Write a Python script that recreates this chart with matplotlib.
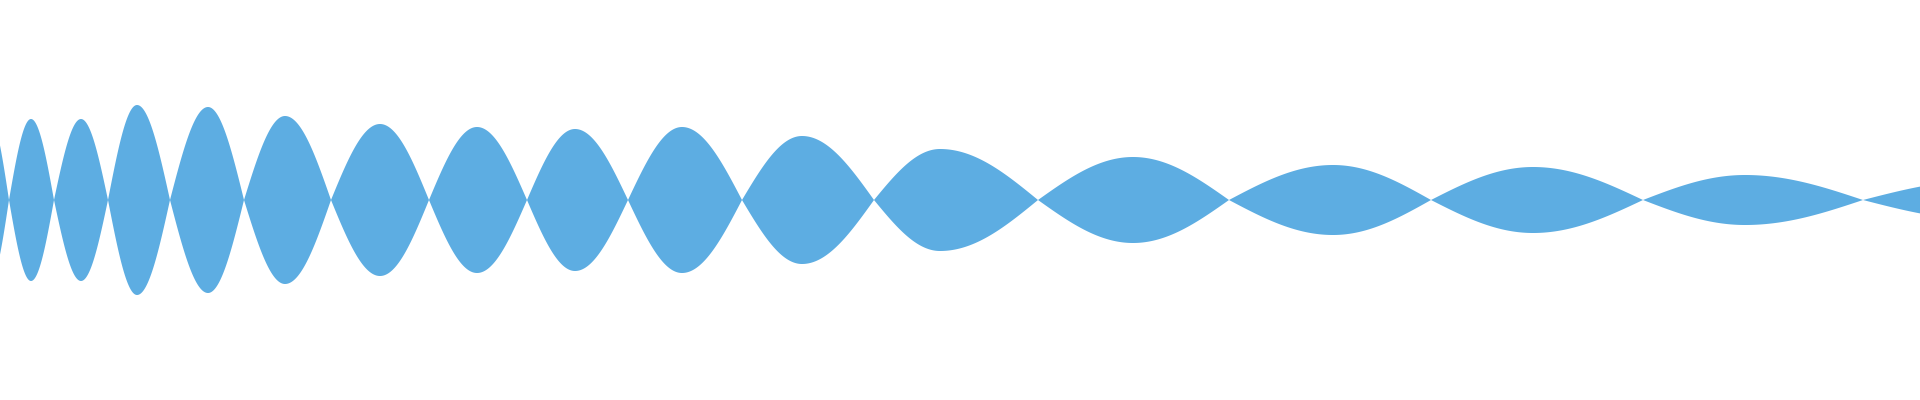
import numpy as np
import matplotlib
matplotlib.use("Agg")
import matplotlib.pyplot as plt

# Zero crossings (nodes) of the mirrored waveform, in x units (0..1920)
node_x = [9, 54, 108, 170, 244, 331, 429, 527, 628, 742, 874, 1038, 1229, 1431, 1643, 1863]
# Peak position of each lobe (lobe i lies between node i-1 and node i)
peak_x = [-11, 31, 81, 137, 208, 285, 380, 477, 575, 682, 802, 940, 1133, 1333, 1533, 1745, 1985]
# Peak amplitude of each lobe (half-height, mirrored around 0)
peak_amp = [84, 81, 81, 95, 93, 84, 76, 73, 71, 73, 64, 51, 43, 35, 33, 25, 20]

FILL = "#5DADE2"

x = np.linspace(0, 1920, 7681)
env = np.zeros_like(x)
for i in range(len(peak_x)):
    p = peak_x[i]
    a = peak_amp[i]
    L = node_x[i - 1] if i > 0 else None
    R = node_x[i] if i < len(node_x) else None
    if L is not None:
        m = (x >= L) & (x <= p)
        t = (x[m] - L) / (p - L)
        env[m] = a * np.sin(np.pi / 2 * t)
    if R is not None:
        m = (x >= p) & (x <= R)
        t = (R - x[m]) / (R - p)
        env[m] = a * np.sin(np.pi / 2 * t)

fig = plt.figure(figsize=(19.2, 4.0), dpi=100)
ax = fig.add_axes([0, 0, 1, 1])
ax.fill_between(x, -env, env, color=FILL, linewidth=0)
ax.set_xlim(0, 1920)
ax.set_ylim(-200, 200)
ax.axis("off")
fig.savefig("out.png", dpi=100, facecolor="white")
